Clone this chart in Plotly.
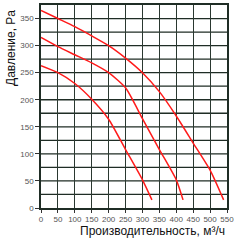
import plotly.graph_objects as go

flow_top = [0, 50, 100, 150, 200, 250, 300, 350, 400, 450, 500, 540]
pres_top = [365, 350, 335, 318, 300, 277, 250, 215, 170, 120, 70, 15]

flow_mid = [0, 50, 100, 150, 200, 250, 300, 350, 400, 420]
pres_mid = [315, 298, 283, 268, 250, 222, 165, 108, 52, 15]

flow_low = [0, 50, 100, 150, 200, 250, 300, 328]
pres_low = [263, 250, 230, 201, 164, 108, 52, 15]

x_ticks = list(range(0, 551, 50))
y_ticks = list(range(0, 351, 50))

fig = go.Figure()
for xs, ys in [(flow_top, pres_top), (flow_mid, pres_mid), (flow_low, pres_low)]:
    fig.add_trace(go.Scatter(x=xs, y=ys, mode="lines", line=dict(color="#ff1a1a", width=1.5, shape="spline", smoothing=0.6),
                             showlegend=False, hoverinfo="skip"))

fig.update_layout(
    width=240, height=241,
    margin=dict(l=41, r=13, t=3, b=33),
    paper_bgcolor="white", plot_bgcolor="white",
    font=dict(family="Arial, Liberation Sans, sans-serif", color="#444"),
    xaxis=dict(range=[0, 550], tickvals=x_ticks, ticktext=[str(v) for v in x_ticks],
               showgrid=True, gridcolor="#2a3830", gridwidth=1.3,
               showline=True, linecolor="#1f2d25", linewidth=1.5, mirror=True,
               ticks="outside", ticklen=3, tickcolor="#333", tickfont=dict(size=8, color="#555"),
               zeroline=False),
    yaxis=dict(range=[0, 375], tickvals=y_ticks, ticktext=[str(v) for v in y_ticks],
               showgrid=False,
               showline=True, linecolor="#1f2d25", linewidth=1.5, mirror=True,
               ticks="outside", ticklen=4, tickcolor="#333", tickfont=dict(size=8, color="#555"),
               zeroline=False),
)
for v in range(25, 375, 25):
    fig.add_shape(type="line", xref="paper", x0=0, x1=1, yref="y", y0=v, y1=v,
                  line=dict(color="#1f2d25", width=1.3), layer="below")

fig.add_annotation(text="Давление, Pa", textangle=-90, xref="paper", yref="paper",
                   x=-0.165, y=0.79, xanchor="center", yanchor="middle", showarrow=False,
                   font=dict(size=12, color="#111"))
fig.add_annotation(text="Производительность, м³/ч", xref="paper", yref="paper",
                   x=1.0, y=-0.112, xanchor="right", yanchor="middle", showarrow=False,
                   font=dict(size=12, color="#111"))

fig.write_html("out.html")
